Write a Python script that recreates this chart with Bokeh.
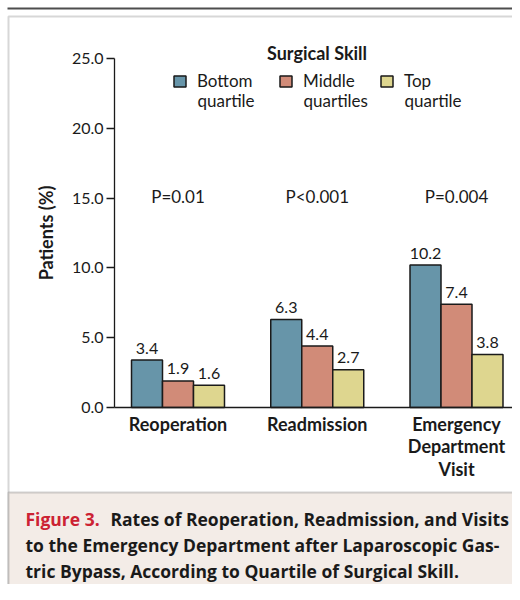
from bokeh.plotting import figure
from bokeh.models import (ColumnDataSource, Range1d, FixedTicker, LinearAxis,
                          NumeralTickFormatter, Legend, LegendItem, Label, BoxAnnotation)
from bokeh.transform import dodge
from bokeh.core.properties import value
from bokeh.embed import file_html
from bokeh.resources import INLINE

# ---- data ----
categories = ["Reoperation", "Readmission", "Emergency\nDepartment\nVisit"]
bottom_quartile = [3.4, 6.3, 10.2]
middle_quartiles = [1.9, 4.4, 7.4]
top_quartile = [1.6, 2.7, 3.8]
p_values = ["P=0.01", "P<0.001", "P=0.004"]
series_labels = [("Bottom", "quartile"), ("Middle", "quartiles"), ("Top", "quartile")]
legend_title = "Surgical Skill"
y_ticks = [0, 5, 10, 15, 20, 25]
y_label = "Patients (%)"
caption_head = "Figure 3."
caption_lines = ["Rates of Reoperation, Readmission, and Visits",
                 "to the Emergency Department after Laparoscopic Gas-",
                 "tric Bypass, According to Quartile of Surgical Skill."]

FONT = "Lato"
CAP_FONT = "Open Sans"
INK = "#1a1a1a"
colors = ["#6795a9", "#d18b78", "#ded68f"]

W, H = 512, 584
cat_idx = list(range(len(categories)))

src = ColumnDataSource(dict(
    idx=cat_idx,
    bottom=bottom_quartile, middle=middle_quartiles, top=top_quartile,
    bottom_lbl=[f"{v:.1f}" for v in bottom_quartile],
    middle_lbl=[f"{v:.1f}" for v in middle_quartiles],
    top_lbl=[f"{v:.1f}" for v in top_quartile],
    pval=p_values,
))

# scales: 139.25 px per category, 13.96 px per percent
x0 = -1.2747
x1 = x0 + W / 139.25
y0 = -12.679
y1 = 29.155
y_axis_at = -0.456  # data x where the y axis sits

p = figure(x_range=Range1d(x0, x1), y_range=Range1d(y0, y1),
           width=W, height=H, output_backend="svg", toolbar_location=None,
           min_border=0, x_axis_location=None, y_axis_location=None)
p.outline_line_color = None
p.xgrid.visible = False
p.ygrid.visible = False
p.background_fill_color = "white"
p.border_fill_color = "white"


def sy(y):
    return H - y


def box(**kw):
    return BoxAnnotation(left_units="screen", right_units="screen",
                         top_units="screen", bottom_units="screen", **kw)


# ---- page decorations ----
p.add_layout(box(left=7, right=W + 20, top=sy(7), bottom=sy(9),
                 fill_color="#4d4d4d", fill_alpha=1, line_color=None))
p.add_layout(box(left=8, right=W + 40, top=sy(16), bottom=-60,
                 fill_alpha=0, line_color="#7a7a7a", line_width=2))
p.add_layout(box(left=8, right=W + 40, top=sy(492), bottom=-60,
                 fill_color="#f3ece7", fill_alpha=1,
                 line_color="#6a6a6a", line_width=2))

# ---- bars ----
w = 0.2226
offsets = [-w, 0.0, w]
keys = ["bottom", "middle", "top"]
renderers = []
for k, off, c in zip(keys, offsets, colors):
    r = p.vbar(x=dodge("idx", off), top=k, width=w, source=src,
               fill_color=c, line_color=INK, line_width=1.5)
    renderers.append(r)
    p.text(x=dodge("idx", off), y=k, text=k + "_lbl", source=src,
           text_align="center", text_baseline="alphabetic", y_offset=-12,
           text_font=value(FONT), text_font_size="16px", text_color=INK)

p.text(x="idx", y=15, text="pval", source=src, text_align="center",
       text_baseline="alphabetic", y_offset=-2, text_font=value(FONT),
       text_font_size="17px", text_color=INK)

# ---- axes ----
yax = LinearAxis(fixed_location=y_axis_at)
yax.ticker = FixedTicker(ticks=y_ticks)
yax.formatter = NumeralTickFormatter(format="0.0")
yax.bounds = (0, 25)
yax.major_tick_out = 8
yax.major_tick_in = 0
yax.minor_tick_line_color = None
yax.axis_line_color = INK
yax.axis_line_width = 1.3
yax.major_tick_line_color = INK
yax.major_tick_line_width = 1.3
yax.major_label_standoff = 3
yax.major_label_text_font = FONT
yax.major_label_text_font_size = "16px"
yax.major_label_text_color = INK
yax.axis_label = y_label
yax.axis_label_text_font = FONT
yax.axis_label_text_font_size = "18px"
yax.axis_label_text_font_style = "bold"
yax.axis_label_text_color = INK
yax.axis_label_standoff = 12
p.add_layout(yax, "left")

xax = LinearAxis(fixed_location=0)
xax.ticker = FixedTicker(ticks=cat_idx)
xax.major_label_overrides = {i: c for i, c in zip(cat_idx, categories)}
xax.bounds = (y_axis_at, x1)
xax.major_tick_line_color = None
xax.major_tick_out = 0
xax.major_tick_in = 0
xax.minor_tick_line_color = None
xax.axis_line_color = INK
xax.axis_line_width = 1.3
xax.major_label_standoff = 5
xax.major_label_text_font = FONT
xax.major_label_text_font_size = "18px"
xax.major_label_text_font_style = "bold"
xax.major_label_text_color = INK
xax.major_label_text_line_height = 1.04
p.add_layout(xax, "below")

# ---- legend ----
leg_x = [172, 278, 379]
for r, (lab1, lab2), lx in zip(renderers, series_labels, leg_x):
    leg = Legend(items=[LegendItem(label=lab1, renderers=[r])],
                 location=(lx, sy(91)),
                 orientation="horizontal", padding=0, margin=0, spacing=0,
                 border_line_color=None, background_fill_alpha=0,
                 glyph_width=15, glyph_height=14, label_standoff=10,
                 label_text_font=FONT, label_text_font_size="17px",
                 label_text_color=INK)
    p.add_layout(leg)
    p.add_layout(Label(x=lx + 25, y=sy(100), x_units="screen", y_units="screen",
                       text=lab2, text_baseline="middle", text_font=FONT,
                       text_font_size="17px", text_color=INK))

p.add_layout(Label(x=316.5, y=sy(52), x_units="screen", y_units="screen",
                   text=legend_title, text_align="center", text_baseline="middle",
                   text_font=FONT, text_font_size="18px", text_font_style="bold",
                   text_color=INK))

# ---- caption ----
cap_base = [518, 544, 570]
cap_style = dict(x_units="screen", y_units="screen", text_font=CAP_FONT,
                 text_font_size="17.5px", text_font_style="bold",
                 text_baseline="alphabetic")
p.add_layout(Label(x=25, y=sy(cap_base[0]), text=caption_head,
                   text_color="#cc2233", **cap_style))
p.add_layout(Label(x=110, y=sy(cap_base[0]), text=caption_lines[0],
                   text_color=INK, **cap_style))
for line, cb in zip(caption_lines[1:], cap_base[1:]):
    p.add_layout(Label(x=25, y=sy(cb), text=line, text_color=INK, **cap_style))

open("out.html", "w").write(file_html(p, INLINE))
